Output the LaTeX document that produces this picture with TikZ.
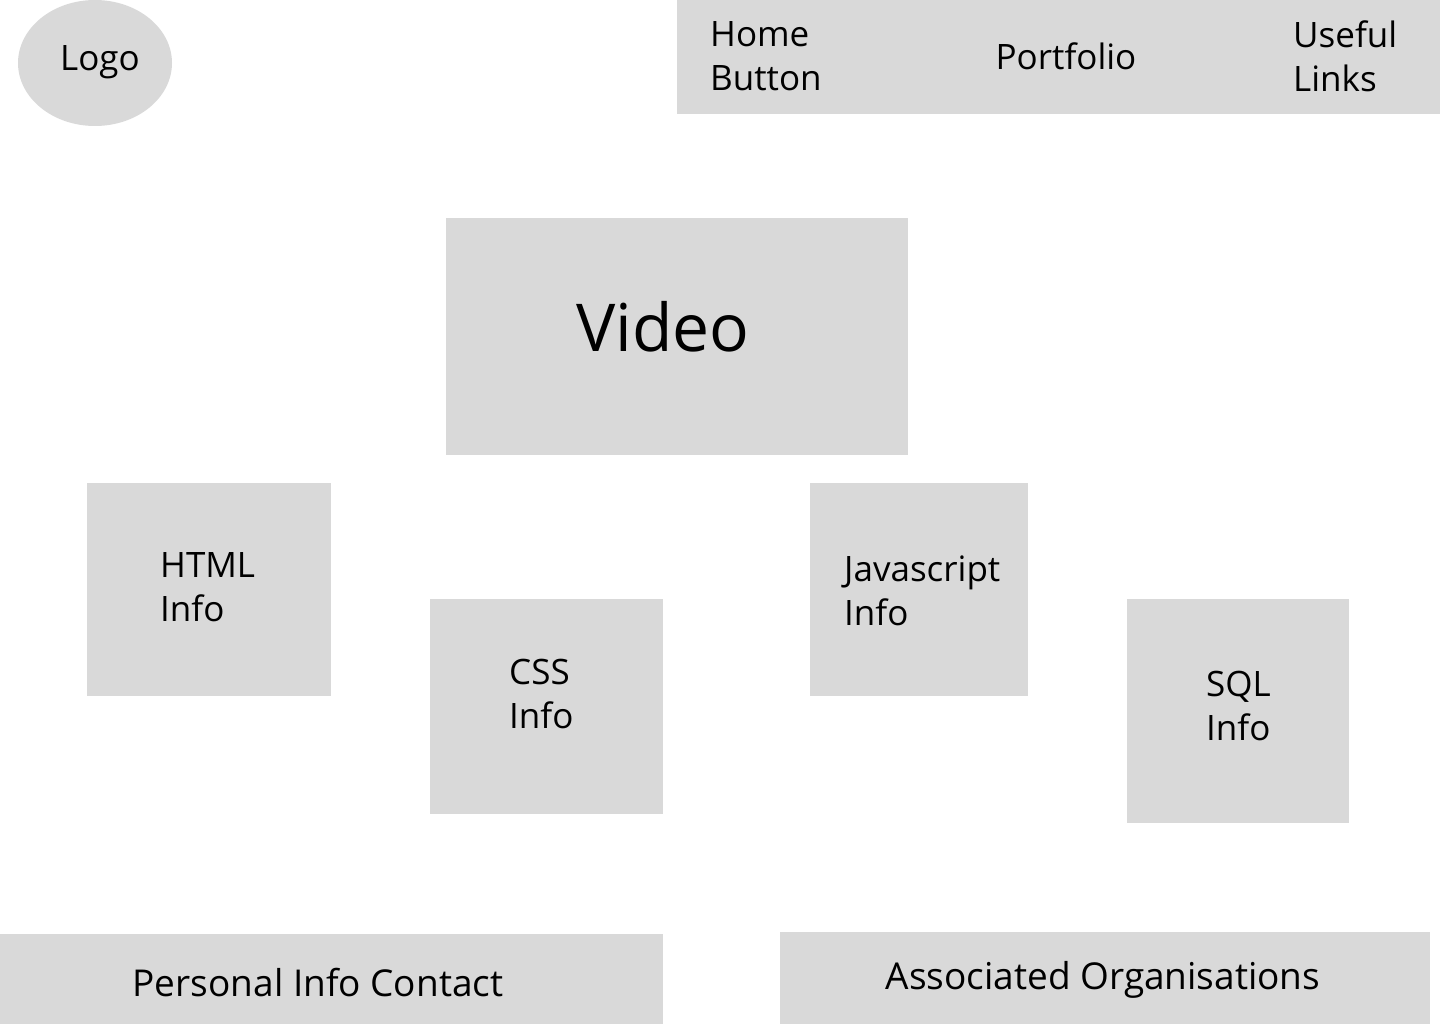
\documentclass[tikz,border=0pt]{standalone}
\usepackage{fontspec}
\setmainfont{Open Sans}
\definecolor{boxgray}{HTML}{D9D9D9}
\tikzset{
  lbl/.style={font=\fontsize{35}{44}\selectfont, align=left, inner sep=0pt, anchor=west},
  mid/.style={font=\fontsize{35}{44}\selectfont, inner sep=0pt},
}
\begin{document}
\begin{tikzpicture}[x=1pt,y=-1pt]
  \useasboundingbox (0,0) rectangle (1440,1024);
  % header
  \fill[boxgray] (95,63) ellipse[x radius=77, y radius=63];
  \fill[boxgray] (677,0) rectangle (1440,114);
  \node[mid] (logo) at (100,62) {Logo};
  \node[lbl] (home) at (710,56) {Home\\Button};
  \node[mid] (portfolio) at (1066,56) {Portfolio};
  \node[lbl] (links) at (1293,56) {Useful\\Links};
  % video
  \fill[boxgray] (446,218) rectangle (908,455);
  \node[inner sep=0pt, font=\fontsize{66}{80}\selectfont] (video) at (663,327) {Video};
  % info boxes
  \fill[boxgray] (87,483) rectangle (331,696);
  \fill[boxgray] (430,599) rectangle (663,814);
  \fill[boxgray] (810,483) rectangle (1028,696);
  \fill[boxgray] (1127,599) rectangle (1349,823);
  \node[lbl] (html) at (160,587) {HTML\\Info};
  \node[lbl] (css) at (509,694) {CSS\\Info};
  \node[lbl] (js) at (844,591) {Javascript\\Info};
  \node[lbl] (sql) at (1206,706) {SQL\\Info};
  % footer
  \fill[boxgray] (0,934) rectangle (663,1024);
  \fill[boxgray] (780,932) rectangle (1430,1024);
  \node[mid, font=\fontsize{37}{44}\selectfont] (contact) at (318,983) {Personal Info Contact};
  \node[mid, font=\fontsize{37}{44}\selectfont] (orgs) at (1103,980) {Associated Organisations};
\end{tikzpicture}
\end{document}
